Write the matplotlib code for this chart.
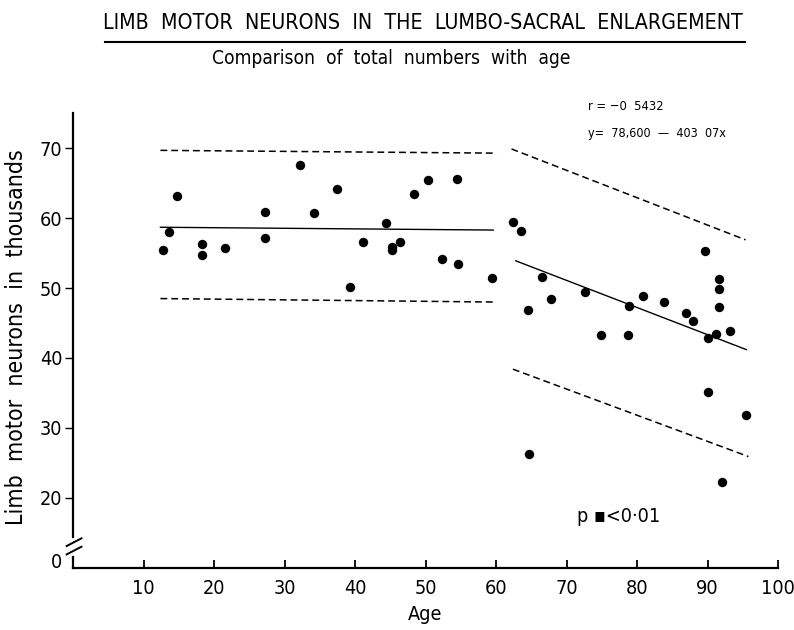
import matplotlib
matplotlib.use("Agg")
import matplotlib.pyplot as plt
from matplotlib import font_manager
from matplotlib.lines import Line2D
from matplotlib.transforms import ScaledTranslation

# ---- pick a narrow font if one is installed ----
_fl = font_manager.fontManager.ttflist
_names = {f.name for f in _fl}
_cond_dejavu = any(f.name == 'DejaVu Sans' and 'ondensed' in f.fname for f in _fl)
if 'Liberation Sans Narrow' in _names:
    FAM = ['Liberation Sans Narrow', 'DejaVu Sans']
    STRETCH = 'normal'
    SCALE = 1.0
elif _cond_dejavu:
    FAM = ['DejaVu Sans']
    STRETCH = 'condensed'
    SCALE = 0.95
else:
    FAM = ['Liberation Sans', 'DejaVu Sans']
    STRETCH = 'normal'
    SCALE = 0.9
plt.rcParams['font.family'] = FAM
plt.rcParams['font.stretch'] = STRETCH

# ---- data ----
ages_young = [12.7, 13.6, 14.8, 18.3, 18.3, 21.5, 27.3, 27.3, 32.2, 34.2, 37.4, 39.3,
              41.2, 44.4, 45.3, 45.3, 46.4, 48.3, 50.4, 52.4, 54.4, 54.6, 59.5]
vals_young = [55.5, 58.0, 63.2, 56.3, 54.7, 55.8, 60.9, 57.1, 67.6, 60.8, 64.1, 50.2,
              56.6, 59.3, 55.9, 55.5, 56.6, 63.5, 65.4, 54.1, 65.6, 53.4, 51.5]

ages_old = [62.4, 63.6, 64.6, 64.7, 66.5, 67.8, 72.6, 74.9, 78.7, 78.8, 80.9, 83.8,
            86.9, 87.9, 89.6, 90.0, 90.1, 91.2, 91.6, 91.6, 91.7, 92.1, 93.2, 95.4]
vals_old = [59.5, 58.2, 46.9, 26.3, 51.6, 48.5, 49.4, 43.3, 43.3, 47.5, 48.9, 48.0,
            46.5, 45.3, 55.3, 35.1, 42.8, 43.4, 51.3, 49.8, 47.3, 22.3, 43.9, 31.9]

young_mean_x = [12.4, 59.6]
young_mean_y = [58.7, 58.3]
young_upper_x = [12.4, 60.1]
young_upper_y = [69.7, 69.3]
young_lower_x = [12.4, 59.9]
young_lower_y = [48.5, 48.0]

old_fit_x = [62.8, 95.5]
old_fit_y = [53.9, 41.2]
old_upper_x = [62.2, 95.4]
old_upper_y = [69.9, 56.9]
old_lower_x = [62.4, 95.8]
old_lower_y = [38.4, 25.9]

x_ticks = [10, 20, 30, 40, 50, 60, 70, 80, 90, 100]
y_ticks = [20, 30, 40, 50, 60, 70]
y_zero_pos = 10          # broken axis: "0" is drawn where 10 would be
y_break_low, y_break_high = 11.6, 14.4

title = "LIMB  MOTOR  NEURONS  IN  THE  LUMBO-SACRAL  ENLARGEMENT"
subtitle = "Comparison  of  total  numbers  with  age"
xlabel = "Age"
ylabel = "Limb  motor  neurons  in  thousands"
stat_r = "r = −0  5432"
stat_eq = "y=  78,600  —  403  07x"
stat_p = "p ▪<0·01"

# ---- figure ----
W, H = 794, 630
FS = 15 * SCALE
fig = plt.figure(figsize=(W / 100, H / 100), dpi=100)
ax = fig.add_axes([73 / W, (H - 567.7) / H, (778 - 73) / W, (567.7 - 113.3) / H])
ax.set_xlim(0, 100)
ax.set_ylim(y_zero_pos, 75)

ax.scatter(ages_young, vals_young, s=46, color='black', zorder=3, linewidths=0)
ax.scatter(ages_old, vals_old, s=46, color='black', zorder=3, linewidths=0)

solid = dict(color='black', lw=1.0)
dashed = dict(color='black', lw=1.1, linestyle=(0, (4.5, 2.6)))
ax.plot(young_mean_x, young_mean_y, **solid)
ax.plot(young_upper_x, young_upper_y, **dashed)
ax.plot(young_lower_x, young_lower_y, **dashed)
ax.plot(old_fit_x, old_fit_y, **solid)
ax.plot(old_upper_x, old_upper_y, **dashed)
ax.plot(old_lower_x, old_lower_y, **dashed)

for s in ['top', 'right']:
    ax.spines[s].set_visible(False)
ax.spines['bottom'].set_linewidth(1.6)
ax.spines['left'].set_linewidth(1.6)
ax.spines['left'].set_bounds(y_break_high, 75)

# lower piece of broken y-axis and break marks
tr = ax.get_yaxis_transform()
ax.add_line(Line2D([0, 0], [y_zero_pos, y_break_low], transform=tr, color='black',
                   lw=1.6, clip_on=False))
for yb in [(11.9, 13.0), (13.1, 14.2)]:
    ax.add_line(Line2D([-0.009, 0.012], [yb[0], yb[1]], transform=tr, color='black',
                       lw=1.4, clip_on=False))

ax.set_xticks(x_ticks)
ax.set_xticklabels([str(v) for v in x_ticks])
ax.tick_params(axis='x', direction='in', length=6, width=1.3, pad=8, labelsize=FS)
ax.set_yticks([y_zero_pos] + y_ticks)
ax.set_yticklabels(['0'] + [str(v) for v in y_ticks])
ax.tick_params(axis='y', direction='out', length=6, width=1.0, pad=1.5, labelsize=FS)
ax.yaxis.get_major_ticks()[0].tick1line.set_visible(False)
_zl = ax.yaxis.get_major_ticks()[0].label1
_zl.set_transform(_zl.get_transform() + ScaledTranslation(0, 5 / 72, fig.dpi_scale_trans))

ax.set_xlabel(xlabel, fontsize=FS, labelpad=5)
fig.text(17 / W, 1 - 337 / H, ylabel, rotation=90, ha='center', va='center',
         fontsize=16.6)

fig.text(423 / W, 1 - 23 / H, title, ha='center', va='center', fontsize=15.3)
fig.add_artist(Line2D([105 / W, 745 / W], [1 - 41.7 / H, 1 - 41.7 / H], color='black', lw=1.5))
fig.text(391 / W, 1 - 58 / H, subtitle, ha='center', va='center', fontsize=13.8)

fig.text(588 / W, 1 - 106 / H, stat_r, ha='left', va='center', fontsize=9.8 * SCALE)
fig.text(588 / W, 1 - 134 / H, stat_eq, ha='left', va='center', fontsize=9.5 * SCALE)
fig.text(577 / W, 1 - 516 / H, stat_p, ha='left', va='center', fontsize=FS)

fig.savefig('out.png', dpi=100)
